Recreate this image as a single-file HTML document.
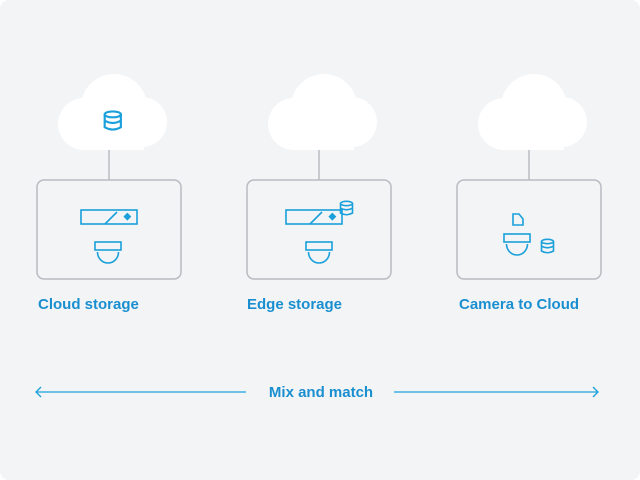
<!DOCTYPE html>
<html><head><style>
html,body{margin:0;padding:0;background:#fff;}
svg{display:block}
text{font-family:"Liberation Sans",sans-serif;font-weight:bold;fill:#1a8fd0;font-size:15px}
</style></head><body>
<svg width="640" height="480" viewBox="0 0 640 480">
<defs>
<g id="cloud">
<circle cx="114" cy="107" r="33" fill="#fff"/>
<circle cx="84" cy="124" r="26" fill="#fff"/>
<circle cx="142" cy="122" r="25" fill="#fff"/>
<rect x="82" y="115" width="62" height="35" rx="0" fill="#fff"/>
<line x1="109" y1="150" x2="109" y2="180" stroke="#b8bcc2" stroke-width="1.5"/>
<rect x="37" y="180" width="144" height="99" rx="7" fill="none" stroke="#b8bcc2" stroke-width="1.5"/>
</g>
<g id="db" fill="none" stroke="#1aa0db" stroke-width="1.6">
<ellipse cx="6.5" cy="2.5" rx="6" ry="2.2"/>
<path d="M0.5 2.5 V12 Q6.5 15.5 12.5 12 V2.5 M0.5 7.2 Q6.5 10.5 12.5 7.2"/>
</g>
<g id="bar" fill="none" stroke="#1aa0db" stroke-width="1.6">
<rect x="0" y="0" width="56" height="14"/>
<line x1="24" y1="14" x2="36" y2="2"/>
<rect x="44" y="4.5" width="4" height="4" transform="rotate(45 46 7)" fill="#1aa0db"/>
</g>
<g id="dome" fill="none" stroke="#1aa0db" stroke-width="1.6">
<rect x="0" y="0" width="26" height="8"/>
<path d="M2.5 10 A10.5 11 0 0 0 23.5 10"/>
</g>
</defs>
<rect x="0" y="0" width="640" height="480" rx="9" fill="#f3f4f6"/>
<use href="#cloud"/>
<use href="#cloud" transform="translate(210,0)"/>
<use href="#cloud" transform="translate(420,0)"/>
<use href="#db" transform="translate(104,111) scale(1.35)"/>
<use href="#bar" transform="translate(81,210)"/>
<use href="#dome" transform="translate(95,242)"/>
<use href="#bar" transform="translate(286,210)"/>
<use href="#db" transform="translate(340,201)"/>
<use href="#dome" transform="translate(306,242)"/>
<path d="M513 214 H519 L523 219 V225 H513 Z" fill="none" stroke="#1aa0db" stroke-width="1.6"/>
<use href="#dome" transform="translate(504,234)"/>
<use href="#db" transform="translate(541,239)"/>
<text x="38" y="309">Cloud storage</text>
<text x="247" y="309">Edge storage</text>
<text x="459" y="309">Camera to Cloud</text>
<text x="321" y="397" text-anchor="middle">Mix and match</text>
<g stroke="#1aa0db" stroke-width="1.3" fill="none">
<line x1="36" y1="392" x2="246" y2="392"/>
<line x1="394" y1="392" x2="598" y2="392"/>
<path d="M41 387 L36 392 L41 397"/>
<path d="M593 387 L598 392 L593 397"/>
</g>
</svg>
</body></html>
